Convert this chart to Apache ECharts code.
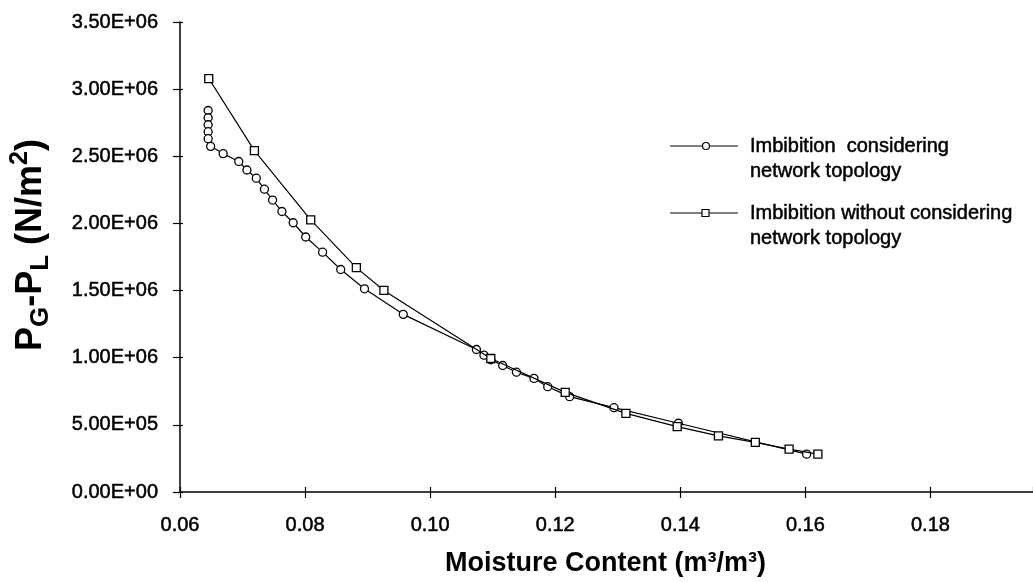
<!DOCTYPE html>
<html>
<head>
<meta charset="utf-8">
<script src="https://cdn.jsdelivr.net/npm/echarts@6/dist/echarts.min.js"></script>
<style>
html,body{margin:0;padding:0;background:#fff;}
#chart{width:1033px;height:582px;}
</style>
</head>
<body>
<div id="chart"></div>
<script>
// ---- data ----
const seriesNames = ['Imbibition  considering\nnetwork topology', 'Imbibition without considering\nnetwork topology'];
const circleX = [0.0645,0.0645,0.0645,0.0645,0.0645,0.0649,0.0669,0.0694,0.0707,0.0722,0.0735,0.0748,0.0763,0.0781,0.0801,0.0828,0.0857,0.0895,0.0957,0.1074,0.1086,0.1097,0.1116,0.1138,0.1166,0.1188,0.1223,0.1294,0.1397,0.1602];
const circleY = [2.841e6,2.787e6,2.735e6,2.683e6,2.631e6,2.574e6,2.520e6,2.461e6,2.398e6,2.337e6,2.255e6,2.174e6,2.089e6,2.005e6,1.899e6,1.786e6,1.657e6,1.513e6,1.323e6,1.061e6,1.019e6,0.985e6,0.942e6,0.892e6,0.846e6,0.784e6,0.710e6,0.628e6,0.512e6,0.282e6];
const squareX = [0.0646,0.0719,0.0809,0.0882,0.0926,0.1097,0.1216,0.1313,0.1395,0.1461,0.1520,0.1574,0.1620];
const squareY = [3.079e6,2.542e6,2.027e6,1.671e6,1.501e6,0.994e6,0.742e6,0.586e6,0.487e6,0.418e6,0.369e6,0.319e6,0.282e6];
const xTicks = {min: 0.06, max: 0.1964, interval: 0.02};
const yTicks = {min: 0, max: 3.5e6, interval: 5e5};

function fmtY(v){
  if (v === 0) return '0.00E+00';
  const e = Math.floor(Math.log10(v) + 1e-9);
  const m = v / Math.pow(10, e);
  return m.toFixed(2) + 'E+' + String(e).padStart(2, '0');
}
const zip = (xs, ys) => xs.map((x, i) => [x, ys[i]]);

const FONT = 'Liberation Sans, Arial, sans-serif';
const chart = echarts.init(document.getElementById('chart'));
const axisTxt = {color:'#000', fontFamily:FONT, fontSize:20, textBorderColor:'#000', textBorderWidth:0.5};
const baseX = {type:'value', min:xTicks.min, max:xTicks.max, interval:xTicks.interval, gridIndex:0, position:'bottom'};
const baseY = {type:'value', min:yTicks.min, max:yTicks.max, interval:yTicks.interval, gridIndex:0, position:'left'};

chart.setOption({
  backgroundColor:'#fff',
  animation:false,
  grid:{left:179, top:22, bottom:88, right:0, containLabel:false},
  xAxis:[Object.assign({}, baseX, {
    name:'Moisture Content (m³/m³)',
    nameLocation:'middle', nameGap:58,
    nameTextStyle:{color:'#000', fontFamily:FONT, fontSize:27, fontWeight:'bold', padding:[0,2,0,0]},
    axisLine:{show:true, lineStyle:{color:'#000', width:1.5}},
    axisTick:{show:true, inside:false, length:6, lineStyle:{color:'#000', width:1.2}},
    axisLabel:Object.assign({margin:23, showMaxLabel:false, formatter:v=>v.toFixed(2)}, axisTxt),
    splitLine:{show:false}
  }), Object.assign({}, baseX, {
    axisLine:{show:false}, axisLabel:{show:false}, splitLine:{show:false},
    axisTick:{show:true, inside:true, length:5, lineStyle:{color:'#000', width:1.2}}
  })],
  yAxis:[Object.assign({}, baseY, {
    name:'{m|P}{s|G}{m|-P}{s|L}{m| (N/m}{p|2}{m|)}',
    nameLocation:'middle', nameGap:126, nameRotate:90,
    nameTextStyle:{
      padding:[0,0,0,24],
      rich:{
        m:{fontFamily:FONT, fontSize:36, fontWeight:'bold', color:'#000', lineHeight:46, verticalAlign:'middle'},
        s:{fontFamily:FONT, fontSize:26, fontWeight:'bold', color:'#000', lineHeight:24, verticalAlign:'bottom'},
        p:{fontFamily:FONT, fontSize:25, fontWeight:'bold', color:'#000', lineHeight:24, verticalAlign:'top'}
      }
    },
    axisLine:{show:true, lineStyle:{color:'#000', width:1.5}},
    axisTick:{show:true, inside:false, length:7, lineStyle:{color:'#000', width:1.2}},
    axisLabel:Object.assign({margin:22, formatter:fmtY}, axisTxt),
    splitLine:{show:false}
  }), Object.assign({}, baseY, {
    axisLine:{show:false}, axisLabel:{show:false}, splitLine:{show:false},
    axisTick:{show:true, inside:true, length:3, lineStyle:{color:'#000', width:1.2}}
  })],
  series:[
    {
      name:seriesNames[0], type:'line', xAxisIndex:0, yAxisIndex:0,
      data:zip(circleX, circleY),
      symbol:'circle', symbolSize:8, showAllSymbol:true,
      lineStyle:{color:'#000', width:1.2},
      itemStyle:{color:'#fff', borderColor:'#000', borderWidth:1.3},
      z:3
    },
    {
      name:seriesNames[1], type:'line', xAxisIndex:0, yAxisIndex:0,
      data:zip(squareX, squareY),
      symbol:'rect', symbolSize:8, showAllSymbol:true,
      lineStyle:{color:'#000', width:1.2},
      itemStyle:{color:'#fff', borderColor:'#000', borderWidth:1.3},
      z:4
    }
  ],
  graphic:[
    {type:'line', shape:{x1:670, y1:146, x2:738, y2:146}, style:{stroke:'#000', lineWidth:1.2}},
    {type:'circle', shape:{cx:706, cy:146, r:3.5}, style:{fill:'#fff', stroke:'#000', lineWidth:1.2}},
    {type:'text', x:750, y:133.5, style:{text:seriesNames[0], fill:'#000', font:'20px Liberation Sans, Arial, sans-serif', lineHeight:25, verticalAlign:'top', align:'left', stroke:'#000', lineWidth:0.5}},
    {type:'line', shape:{x1:670, y1:213, x2:738, y2:213}, style:{stroke:'#000', lineWidth:1.2}},
    {type:'rect', shape:{x:702, y:209.5, width:7, height:7}, style:{fill:'#fff', stroke:'#000', lineWidth:1.2}},
    {type:'text', x:750, y:200.5, style:{text:seriesNames[1], fill:'#000', font:'20px Liberation Sans, Arial, sans-serif', lineHeight:25, verticalAlign:'top', align:'left', stroke:'#000', lineWidth:0.5}}
  ]
});
</script>
</body>
</html>
